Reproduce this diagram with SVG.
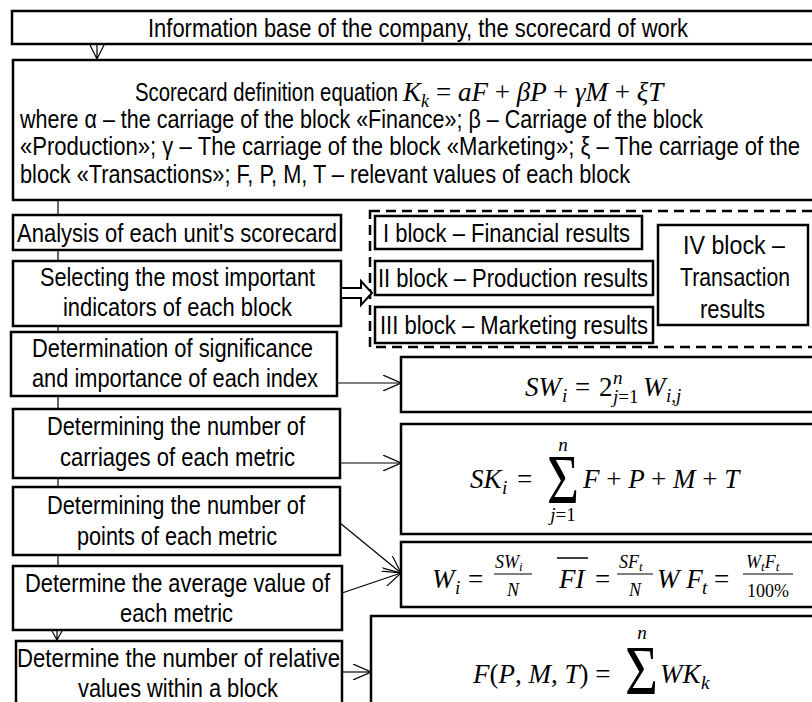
<svg xmlns="http://www.w3.org/2000/svg" width="812" height="702" viewBox="0 0 812 702">
<defs>
<style>
.box{fill:#fff;stroke:#000;stroke-width:2.5}
.dash{fill:none;stroke:#000;stroke-width:2.5;stroke-dasharray:10 6}
.t{font-family:"Liberation Sans Narrow","Liberation Sans",Arial,sans-serif;font-size:26px;fill:#000}
.t2{font-size:25px}
.m{font-family:"Liberation Serif","DejaVu Serif",serif;font-style:italic;font-size:27px;fill:#000}
.ms{font-family:"Liberation Serif","DejaVu Serif",serif;font-style:italic;font-size:18px;fill:#000}
.mf{font-family:"Liberation Serif","DejaVu Serif",serif;font-style:italic;font-size:19px;fill:#000}
.u{font-style:normal}
.sig{font-family:"Liberation Serif","DejaVu Serif",serif;font-style:normal;font-size:70px;fill:#000}
.c{fill:none;stroke:#000;stroke-width:1.2}
</style>
<marker id="open" viewBox="0 0 18 16" refX="18" refY="8" markerWidth="18" markerHeight="16" markerUnits="userSpaceOnUse" orient="auto">
<path d="M0,0 L18,8 L0,16" fill="none" stroke="#000" stroke-width="1.2"/>
</marker>
</defs>
<rect width="812" height="702" fill="#fff"/>

<g id="n_top">
<rect class="box" x="12" y="11" width="830" height="33"/>
<text class="t" x="148" y="37" textLength="540" lengthAdjust="spacingAndGlyphs">Information base of the company, the scorecard of work</text>
</g>

<g id="n_equation">
<rect class="box" x="13" y="60" width="830" height="140"/>
<text class="t t2" x="135" y="101" textLength="263" lengthAdjust="spacingAndGlyphs">Scorecard definition equation</text>
<text class="m" x="403" y="101">K</text>
<text class="ms" x="421" y="107">k</text>
<text class="m" x="436" y="101"><tspan class="u">=</tspan> aF <tspan class="u">+</tspan> βP <tspan class="u">+</tspan> γM <tspan class="u">+</tspan> ξT</text>
<text class="t t2" x="20" y="128" textLength="683" lengthAdjust="spacingAndGlyphs">where α – the carriage of the block «Finance»; β – Carriage of the block</text>
<text class="t t2" x="20" y="155" textLength="780" lengthAdjust="spacingAndGlyphs">«Production»; γ – The carriage of the block «Marketing»; ξ – The carriage of the</text>
<text class="t t2" x="20" y="183" textLength="610" lengthAdjust="spacingAndGlyphs">block «Transactions»; F, P, M, T – relevant values of each block</text>
</g>

<g id="n_analysis">
<rect class="box" x="13" y="215" width="328" height="35"/>
<text class="t" x="17" y="242" textLength="320" lengthAdjust="spacingAndGlyphs">Analysis of each unit's scorecard</text>
</g>

<g id="n_select">
<rect class="box" x="13" y="261" width="328" height="65"/>
<text class="t" x="40" y="286" textLength="275" lengthAdjust="spacingAndGlyphs">Selecting the most important</text>
<text class="t" x="63" y="316" textLength="229" lengthAdjust="spacingAndGlyphs">indicators of each block</text>
</g>

<g id="n_significance">
<rect class="box" x="11" y="332" width="326" height="64"/>
<text class="t" x="32" y="357" textLength="281" lengthAdjust="spacingAndGlyphs">Determination of significance</text>
<text class="t" x="32" y="387" textLength="286" lengthAdjust="spacingAndGlyphs">and importance of each index</text>
</g>

<g id="n_carriages">
<rect class="box" x="13" y="409" width="327" height="69"/>
<text class="t" x="47" y="435" textLength="258" lengthAdjust="spacingAndGlyphs">Determining the number of</text>
<text class="t" x="60" y="466" textLength="235" lengthAdjust="spacingAndGlyphs">carriages of each metric</text>
</g>

<g id="n_points">
<rect class="box" x="13" y="487" width="327" height="68"/>
<text class="t" x="47" y="514" textLength="258" lengthAdjust="spacingAndGlyphs">Determining the number of</text>
<text class="t" x="77" y="545" textLength="200" lengthAdjust="spacingAndGlyphs">points of each metric</text>
</g>

<g id="n_average">
<rect class="box" x="13" y="566" width="329" height="64"/>
<text class="t" x="25" y="592" textLength="305" lengthAdjust="spacingAndGlyphs">Determine the average value of</text>
<text class="t" x="120" y="622" textLength="113" lengthAdjust="spacingAndGlyphs">each metric</text>
</g>

<g id="n_relative">
<rect class="box" x="16" y="641" width="326" height="80"/>
<text class="t" x="17" y="667" textLength="323" lengthAdjust="spacingAndGlyphs">Determine the number of relative</text>
<text class="t" x="78" y="697" textLength="200" lengthAdjust="spacingAndGlyphs">values within a block</text>
</g>

<g id="n_blocks">
<rect class="dash" x="370" y="211" width="460" height="136"/>
</g>
<g id="n_block1">
<rect class="box" x="375" y="216" width="267" height="33"/>
<text class="t" x="383" y="242" textLength="247" lengthAdjust="spacingAndGlyphs">I block – Financial results</text>
</g>
<g id="n_block2">
<rect class="box" x="375" y="261" width="278" height="34"/>
<text class="t" x="378" y="287" textLength="270" lengthAdjust="spacingAndGlyphs">II block – Production results</text>
</g>
<g id="n_block3">
<rect class="box" x="375" y="307" width="278" height="36"/>
<text class="t" x="380" y="334" textLength="268" lengthAdjust="spacingAndGlyphs">III block – Marketing results</text>
</g>
<g id="n_block4">
<rect class="box" x="658" y="225" width="150" height="100"/>
<text class="t" x="683" y="254" textLength="102" lengthAdjust="spacingAndGlyphs">IV block –</text>
<text class="t" x="680" y="286" textLength="110" lengthAdjust="spacingAndGlyphs">Transaction</text>
<text class="t" x="700" y="318" textLength="65" lengthAdjust="spacingAndGlyphs">results</text>
</g>

<g id="n_sw">
<rect class="box" x="401" y="357" width="430" height="55"/>
<text class="m" x="525" y="396">SW</text>
<text class="mf" x="562" y="402">i</text>
<text class="m u" x="575" y="396">=</text>
<text class="m u" x="599" y="396">2</text>
<text class="mf" x="613" y="384">n</text>
<text class="mf" x="613" y="403">j<tspan class="u">=1</tspan></text>
<text class="m" x="643" y="396">W</text>
<text class="mf" x="666" y="402">i,j</text>
</g>

<g id="n_sk">
<rect class="box" x="401" y="424" width="430" height="110"/>
<text class="m" x="470" y="488">SK</text>
<text class="mf" x="502" y="494">i</text>
<text class="m u" x="517" y="488">=</text>
<text class="sig" x="547" y="503" textLength="32" lengthAdjust="spacingAndGlyphs">Σ</text>
<text class="mf" x="563" y="451" text-anchor="middle">n</text>
<text class="mf" x="563" y="521" text-anchor="middle">j<tspan class="u">=1</tspan></text>
<text class="m" x="583" y="488">F <tspan class="u">+</tspan> P <tspan class="u">+</tspan> M <tspan class="u">+</tspan> T</text>
</g>

<g id="n_w">
<rect class="box" x="401" y="542" width="430" height="65"/>
<text class="m" x="432" y="588">W</text>
<text class="mf" x="455" y="594">i</text>
<text class="m u" x="468" y="588">=</text>
<text class="ms" x="495" y="568">SW<tspan font-size="13" dy="3">i</tspan></text>
<line x1="494" y1="574" x2="532" y2="574" stroke="#000" stroke-width="1.2"/>
<text class="ms" x="513" y="596" text-anchor="middle">N</text>
<text class="m" x="559" y="588">FI</text>
<line x1="557" y1="558" x2="588" y2="558" stroke="#000" stroke-width="1.5"/>
<text class="m u" x="595" y="588">=</text>
<text class="ms" x="619" y="568">SF<tspan font-size="13" dy="3">t</tspan></text>
<line x1="617" y1="574" x2="653" y2="574" stroke="#000" stroke-width="1.2"/>
<text class="ms" x="635" y="596" text-anchor="middle">N</text>
<text class="m" x="657" y="588">W F</text>
<text class="mf" x="702" y="594">t</text>
<text class="m u" x="714" y="588">=</text>
<text class="ms" x="746" y="568">W<tspan font-size="13" dy="3">t</tspan><tspan dy="-3">F</tspan><tspan font-size="13" dy="3">t</tspan></text>
<line x1="743" y1="574" x2="793" y2="574" stroke="#000" stroke-width="1.2"/>
<text class="ms u" x="768" y="597" text-anchor="middle">100%</text>
</g>

<g id="n_f">
<rect class="box" x="371" y="616" width="460" height="110"/>
<text class="m" x="473" y="683">F<tspan class="u">(</tspan>P<tspan class="u">,</tspan> M<tspan class="u">,</tspan> T<tspan class="u">) =</tspan></text>
<text class="sig" x="625" y="694" textLength="33" lengthAdjust="spacingAndGlyphs">Σ</text>
<text class="mf" x="642" y="639" text-anchor="middle">n</text>
<text class="m" x="660" y="683">WK</text>
<text class="mf" x="701" y="689">k</text>
</g>

<g id="connectors">
<path class="c" d="M97,44 V60 M90,45 L97,59 L104,45"/>
<path class="c" d="M58,200 V215 M58,250 V261 M58,326 V332 M58,396 V409 M58,478 V487 M58,555 V566"/>
<path class="c" d="M57,630 V641 M52,631 L57,640 L62,631"/>
<line class="c" x1="337" y1="383" x2="401" y2="383" marker-end="url(#open)"/>
<line class="c" x1="340" y1="463" x2="401" y2="463" marker-end="url(#open)"/>
<line class="c" x1="340" y1="523" x2="401" y2="573" marker-end="url(#open)"/>
<line class="c" x1="342" y1="593" x2="401" y2="573" marker-end="url(#open)"/>
<line class="c" x1="342" y1="672" x2="371" y2="672" marker-end="url(#open)"/>
<polygon points="341,288 361,288 361,281 372,293 361,305 361,298 341,298" fill="#fff" stroke="#000" stroke-width="2"/>
</g>
</svg>
